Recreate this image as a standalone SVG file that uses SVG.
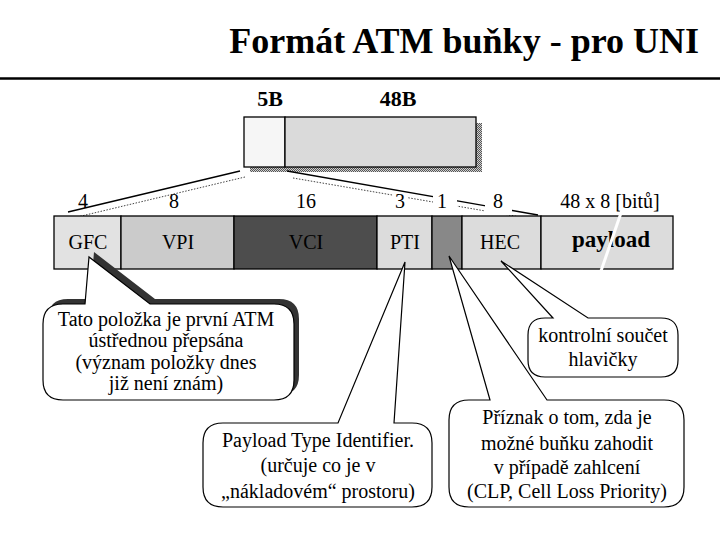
<svg xmlns="http://www.w3.org/2000/svg" width="720" height="540" viewBox="0 0 720 540">
<style>
.t{font-family:"Liberation Serif","Times New Roman",serif;fill:#000}
.n{font-size:20px}
.b{font-weight:bold}
.cell{stroke:#000;stroke-width:1.3}
.bub{fill:#fff;stroke:#000;stroke-width:1.2}
.ln{stroke:#000;stroke-width:1.3;fill:none}
.dot{stroke:#444;stroke-width:1;stroke-dasharray:1.5 1.5;fill:none}
</style>
<defs>
<pattern id="dither" width="2" height="2" patternUnits="userSpaceOnUse">
<rect width="2" height="2" fill="#d0d0d0"/>
<rect width="1" height="1" fill="#555"/>
<rect x="1" y="1" width="1" height="1" fill="#555"/>
</pattern>
</defs>
<rect width="720" height="540" fill="#fff"/>
<g id="title">
<text class="t b" x="699" y="53" font-size="36" text-anchor="end">Formát ATM buňky - pro UNI</text>
<line x1="0" y1="78.5" x2="720" y2="78.5" stroke="#000" stroke-width="2.5"/>
</g>
<g id="cell">
<text class="t b" x="270" y="106" font-size="22" text-anchor="middle">5B</text>
<text class="t b" x="398" y="106" font-size="22" text-anchor="middle">48B</text>
<rect x="250" y="123" width="232" height="49" fill="url(#dither)"/>
<rect x="244" y="117" width="41" height="50" fill="#f6f6f6" class="cell"/>
<rect x="285" y="117" width="191" height="50" fill="#dadada" class="cell"/>
</g>
<g id="connectors">
<line class="ln" x1="240" y1="171" x2="68" y2="212"/>
<line class="dot" x1="245" y1="177" x2="73" y2="218"/>
<line class="ln" x1="287" y1="171" x2="538" y2="215"/>
<line class="dot" x1="293" y1="178" x2="538" y2="220"/>
</g>
<g id="bitlabels">
<rect x="393" y="193" width="15" height="20" fill="#fff"/>
<rect x="433" y="191" width="24" height="23" fill="#fff"/>
<rect x="485" y="191" width="27" height="24" fill="#fff"/>
<rect x="555" y="190" width="115" height="24" fill="#fff"/>
<text class="t n" x="83" y="208" text-anchor="middle">4</text>
<text class="t n" x="174" y="208" text-anchor="middle">8</text>
<text class="t n" x="306" y="208" text-anchor="middle">16</text>
<text class="t n" x="400" y="208" text-anchor="middle">3</text>
<text class="t n" x="442" y="208" text-anchor="middle">1</text>
<text class="t n" x="498" y="208" text-anchor="middle">8</text>
<text class="t n" x="610" y="208" text-anchor="middle">48 x 8 [bitů]</text>
</g>
<g id="row">
<rect id="gfc" x="54" y="216" width="67" height="53" fill="#e2e2e2" class="cell"/>
<rect id="vpi" x="121" y="216" width="113" height="53" fill="#cbcbcb" class="cell"/>
<rect id="vci" x="234" y="216" width="143" height="53" fill="#4d4d4d" class="cell"/>
<rect id="pti" x="377" y="216" width="55" height="53" fill="#dcdcdc" class="cell"/>
<rect id="clp" x="432" y="216" width="30" height="53" fill="#888" class="cell"/>
<rect id="hec" x="462" y="216" width="79" height="53" fill="#dcdcdc" class="cell"/>
<rect id="payload" x="541" y="216" width="132" height="53" fill="#dcdcdc" class="cell"/>
<text class="t n" x="88" y="249" text-anchor="middle">GFC</text>
<text class="t n" x="178" y="249" text-anchor="middle">VPI</text>
<text class="t n" x="306" y="249" text-anchor="middle">VCI</text>
<text class="t n" x="405" y="249" text-anchor="middle">PTI</text>
<text class="t n" x="500" y="249" text-anchor="middle">HEC</text>
<text class="t b" x="611" y="247" font-size="23" text-anchor="middle">payload</text>
<line x1="622" y1="210" x2="601" y2="271" stroke="#fff" stroke-width="3"/>
</g>
<g id="bubble-gfc">
<path transform="translate(5,-5)" fill="#333" d="M63,304 L85,304 L89,257 L150,304 L274,304 Q294,304 294,324 L294,380 Q294,400 274,400 L63,400 Q43,400 43,380 L43,324 Q43,304 63,304 Z"/>
<path class="bub" d="M63,304 L85,304 L89,257 L150,304 L274,304 Q294,304 294,324 L294,380 Q294,400 274,400 L63,400 Q43,400 43,380 L43,324 Q43,304 63,304 Z"/>
<text class="t n" text-anchor="middle"><tspan x="166" y="326">Tato položka je první ATM</tspan><tspan x="166" y="347">ústřednou přepsána</tspan><tspan x="166" y="369">(význam položky dnes</tspan><tspan x="166" y="390">již není znám)</tspan></text>
</g>
<g id="bubble-hec">
<path class="bub" d="M545,318 L553,318 L501,261 L588,318 L661,318 Q678,318 678,335 L678,360 Q678,377 661,377 L545,377 Q528,377 528,360 L528,335 Q528,318 545,318 Z"/>
<text class="t n" text-anchor="middle"><tspan x="603" y="342">kontrolní součet</tspan><tspan x="603" y="366">hlavičky</tspan></text>
</g>
<g id="bubble-pti">
<path class="bub" d="M223,423 L338,423 L405,262 L394,423 L412,423 Q432,423 432,443 L432,487 Q432,507 412,507 L223,507 Q203,507 203,487 L203,443 Q203,423 223,423 Z"/>
<text class="t n" text-anchor="middle"><tspan x="318" y="447">Payload Type Identifier.</tspan><tspan x="318" y="472">(určuje co je v</tspan><tspan x="318" y="498">„nákladovém“ prostoru)</tspan></text>
</g>
<g id="bubble-clp">
<path class="bub" d="M469,400 L490,400 L449,256 L547,400 L664,400 Q684,400 684,420 L684,487 Q684,507 664,507 L469,507 Q449,507 449,487 L449,420 Q449,400 469,400 Z"/>
<text class="t n" text-anchor="middle"><tspan x="567" y="424">Příznak o tom, zda je</tspan><tspan x="567" y="450">možné buňku zahodit</tspan><tspan x="567" y="474">v případě zahlcení</tspan><tspan x="567" y="498">(CLP, Cell Loss Priority)</tspan></text>
</g>
</svg>
